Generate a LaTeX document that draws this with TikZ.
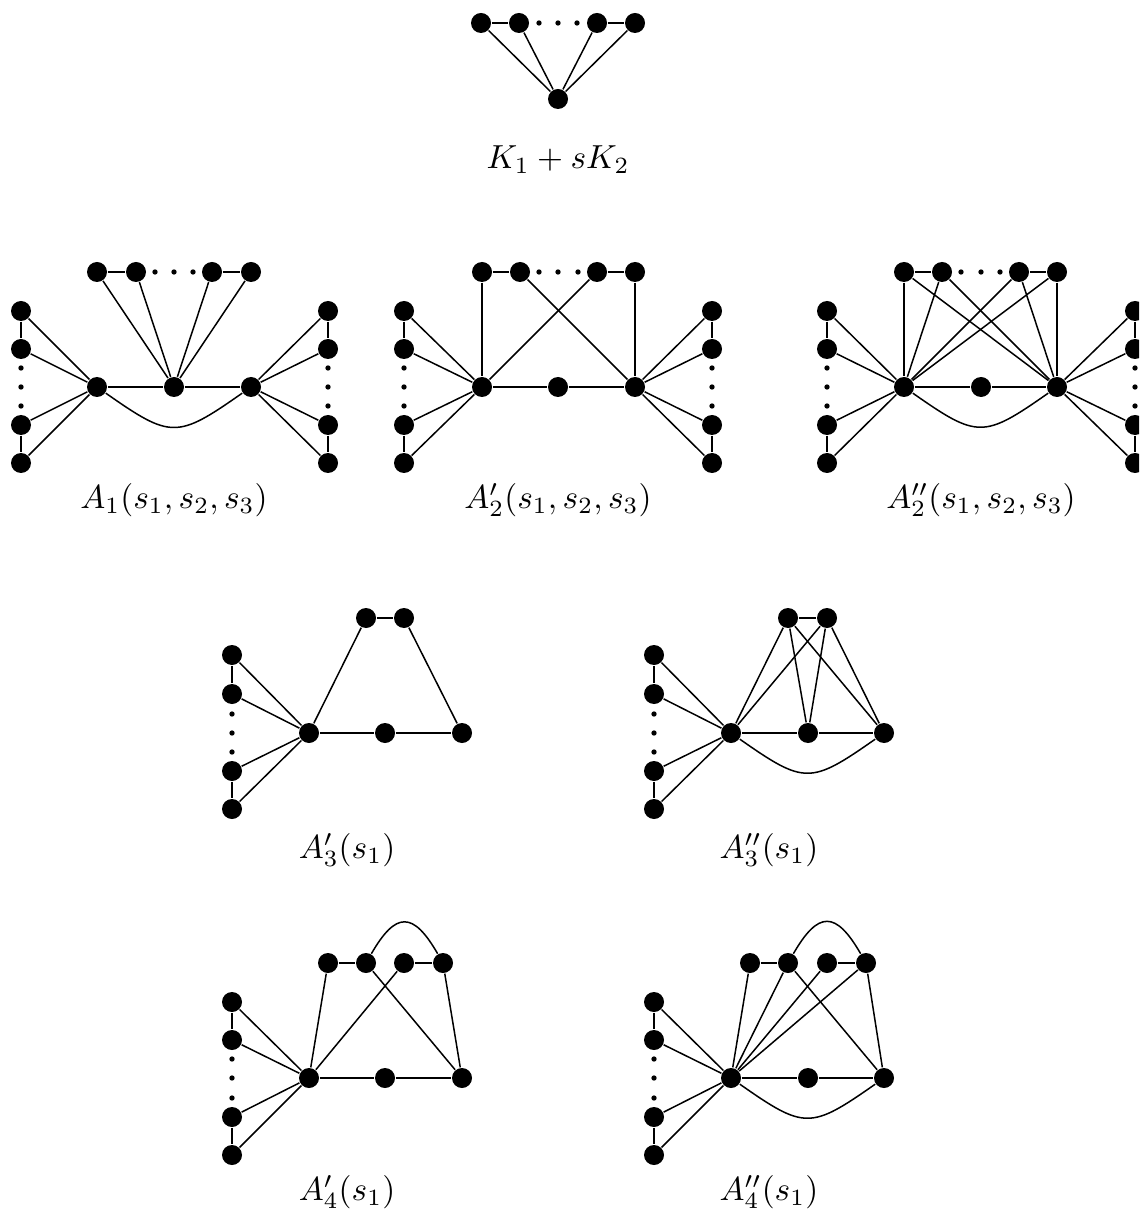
\documentclass[tikz,border=0pt]{standalone}
\usepackage{amsmath}
\tikzset{vtx/.style={circle,fill=black,inner sep=0pt,minimum size=6pt},elp/.style={circle,fill=black,inner sep=0pt,minimum size=1.6pt},lab/.style={font=\fontsize{10}{12}\selectfont,inner sep=1pt}}
\begin{document}
\begin{tikzpicture}[x=0.3pt,y=-0.3pt,line width=0.45pt]
\useasboundingbox (0,0) rectangle (1139,1214);
\clip (0,0) rectangle (1139,1214);
% K_1 + sK_2
\foreach \x [count=\i] in {481,519,597,635}{\node[vtx] (k\i) at (\x,23) {};}
\foreach \x [count=\i] in {539,558,577}{\node[elp] (kd\i) at (\x,23) {};}
\node[vtx] (k0) at (558,99) {};
\node[lab] (klab) at (558,160) {$K_1+sK_2$};
\foreach \a/\b in {k1/k2,k3/k4,k1/k0,k2/k0,k3/k0,k4/k0}{\draw (\a)--(\b);}
% A_1(s_1,s_2,s_3)
\foreach \x [count=\i] in {97,136,212,251}{\node[vtx] (a1t\i) at (\x,272) {};}
\foreach \x [count=\i] in {155,174,193}{\node[elp] (a1d\i) at (\x,272) {};}
\foreach \y [count=\i] in {311,349,425,463}{\node[vtx] (a1p\i) at (21,\y) {};\node[vtx] (a1q\i) at (328,\y) {};}
\foreach \y [count=\i] in {368,387,406}{\node[elp] (a1e\i) at (21,\y) {};\node[elp] (a1f\i) at (328,\y) {};}
\node[vtx] (a1u) at (97,387) {};
\node[vtx] (a1m) at (174,387) {};
\node[vtx] (a1v) at (251,387) {};
\node[lab] (a1lab) at (174,500) {$A_1(s_1,s_2,s_3)$};
\foreach \a/\b in {a1t1/a1t2,a1t3/a1t4,a1t1/a1m,a1t2/a1m,a1t3/a1m,a1t4/a1m,a1p1/a1p2,a1p3/a1p4,a1p1/a1u,a1p2/a1u,a1p3/a1u,a1p4/a1u,a1q1/a1q2,a1q3/a1q4,a1q1/a1v,a1q2/a1v,a1q3/a1v,a1q4/a1v,a1u/a1m,a1m/a1v}{\draw (\a)--(\b);}
\draw (a1u) to[out=-35,in=-145,looseness=1.5] (a1v);
% A'_2(s_1,s_2,s_3)
\foreach \x [count=\i] in {482,520,597,635}{\node[vtx] (b2t\i) at (\x,272) {};}
\foreach \x [count=\i] in {539,558,578}{\node[elp] (b2d\i) at (\x,272) {};}
\foreach \y [count=\i] in {311,349,425,463}{\node[vtx] (b2p\i) at (404,\y) {};\node[vtx] (b2q\i) at (712,\y) {};}
\foreach \y [count=\i] in {368,387,406}{\node[elp] (b2e\i) at (404,\y) {};\node[elp] (b2f\i) at (712,\y) {};}
\node[vtx] (b2u) at (482,387) {};
\node[vtx] (b2m) at (558,387) {};
\node[vtx] (b2v) at (635,387) {};
\node[lab] (b2lab) at (558,500) {$A'_2(s_1,s_2,s_3)$};
\foreach \a/\b in {b2t1/b2t2,b2t3/b2t4,b2t1/b2u,b2t3/b2u,b2t2/b2v,b2t4/b2v,b2p1/b2p2,b2p3/b2p4,b2p1/b2u,b2p2/b2u,b2p3/b2u,b2p4/b2u,b2q1/b2q2,b2q3/b2q4,b2q1/b2v,b2q2/b2v,b2q3/b2v,b2q4/b2v,b2u/b2m,b2m/b2v}{\draw (\a)--(\b);}
% A''_2(s_1,s_2,s_3)
\foreach \x [count=\i] in {904,942,1019,1057}{\node[vtx] (c2t\i) at (\x,272) {};}
\foreach \x [count=\i] in {961,981,1000}{\node[elp] (c2d\i) at (\x,272) {};}
\foreach \y [count=\i] in {311,349,425,463}{\node[vtx] (c2p\i) at (827,\y) {};\node[vtx] (c2q\i) at (1135,\y) {};}
\foreach \y [count=\i] in {368,387,406}{\node[elp] (c2e\i) at (827,\y) {};\node[elp] (c2f\i) at (1135,\y) {};}
\node[vtx] (c2u) at (904,387) {};
\node[vtx] (c2m) at (981,387) {};
\node[vtx] (c2v) at (1057,387) {};
\node[lab] (c2lab) at (981,500) {$A''_2(s_1,s_2,s_3)$};
\foreach \a/\b in {c2t1/c2t2,c2t3/c2t4,c2t1/c2u,c2t2/c2u,c2t3/c2u,c2t4/c2u,c2t1/c2v,c2t2/c2v,c2t3/c2v,c2t4/c2v,c2p1/c2p2,c2p3/c2p4,c2p1/c2u,c2p2/c2u,c2p3/c2u,c2p4/c2u,c2q1/c2q2,c2q3/c2q4,c2q1/c2v,c2q2/c2v,c2q3/c2v,c2q4/c2v,c2u/c2m,c2m/c2v}{\draw (\a)--(\b);}
\draw (c2u) to[out=-35,in=-145,looseness=1.5] (c2v);
% A'_3(s_1)
\node[vtx] (b3t1) at (366,618) {};
\node[vtx] (b3t2) at (404,618) {};
\foreach \y [count=\i] in {655,694,771,809}{\node[vtx] (b3p\i) at (232,\y) {};}
\foreach \y [count=\i] in {714,733,752}{\node[elp] (b3e\i) at (232,\y) {};}
\node[vtx] (b3u) at (309,733) {};
\node[vtx] (b3m) at (385,733) {};
\node[vtx] (b3v) at (462,733) {};
\node[lab] (b3lab) at (347,850) {$A'_3(s_1)$};
\foreach \a/\b in {b3t1/b3t2,b3t1/b3u,b3t2/b3v,b3p1/b3p2,b3p3/b3p4,b3p1/b3u,b3p2/b3u,b3p3/b3u,b3p4/b3u,b3u/b3m,b3m/b3v}{\draw (\a)--(\b);}
% A''_3(s_1)
\node[vtx] (c3t1) at (788,618) {};
\node[vtx] (c3t2) at (827,618) {};
\foreach \y [count=\i] in {655,694,771,809}{\node[vtx] (c3p\i) at (654,\y) {};}
\foreach \y [count=\i] in {714,733,752}{\node[elp] (c3e\i) at (654,\y) {};}
\node[vtx] (c3u) at (731,733) {};
\node[vtx] (c3m) at (808,733) {};
\node[vtx] (c3v) at (884,733) {};
\node[lab] (c3lab) at (769,850) {$A''_3(s_1)$};
\foreach \a/\b in {c3t1/c3t2,c3t1/c3u,c3t1/c3m,c3t1/c3v,c3t2/c3u,c3t2/c3m,c3t2/c3v,c3p1/c3p2,c3p3/c3p4,c3p1/c3u,c3p2/c3u,c3p3/c3u,c3p4/c3u,c3u/c3m,c3m/c3v}{\draw (\a)--(\b);}
\draw (c3u) to[out=-35,in=-145,looseness=1.5] (c3v);
% A'_4(s_1)
\foreach \x [count=\i] in {328,366,404,443}{\node[vtx] (b4t\i) at (\x,963) {};}
\foreach \y [count=\i] in {1002,1040,1117,1155}{\node[vtx] (b4p\i) at (232,\y) {};}
\foreach \y [count=\i] in {1059,1078,1098}{\node[elp] (b4e\i) at (232,\y) {};}
\node[vtx] (b4u) at (309,1078) {};
\node[vtx] (b4m) at (385,1078) {};
\node[vtx] (b4v) at (462,1078) {};
\node[lab] (b4lab) at (347,1192) {$A'_4(s_1)$};
\foreach \a/\b in {b4t1/b4t2,b4t3/b4t4,b4t1/b4u,b4t3/b4u,b4t2/b4v,b4t4/b4v,b4p1/b4p2,b4p3/b4p4,b4p1/b4u,b4p2/b4u,b4p3/b4u,b4p4/b4u,b4u/b4m,b4m/b4v}{\draw (\a)--(\b);}
\draw (b4t2) to[out=60,in=120,looseness=1.9] (b4t4);
% A''_4(s_1)
\foreach \x [count=\i] in {750,788,827,866}{\node[vtx] (c4t\i) at (\x,963) {};}
\foreach \y [count=\i] in {1002,1040,1117,1155}{\node[vtx] (c4p\i) at (654,\y) {};}
\foreach \y [count=\i] in {1059,1078,1098}{\node[elp] (c4e\i) at (654,\y) {};}
\node[vtx] (c4u) at (731,1078) {};
\node[vtx] (c4m) at (808,1078) {};
\node[vtx] (c4v) at (884,1078) {};
\node[lab] (c4lab) at (769,1192) {$A''_4(s_1)$};
\foreach \a/\b in {c4t1/c4t2,c4t3/c4t4,c4t1/c4u,c4t2/c4u,c4t3/c4u,c4t4/c4u,c4t2/c4v,c4t4/c4v,c4p1/c4p2,c4p3/c4p4,c4p1/c4u,c4p2/c4u,c4p3/c4u,c4p4/c4u,c4u/c4m,c4m/c4v}{\draw (\a)--(\b);}
\draw (c4t2) to[out=60,in=120,looseness=1.9] (c4t4);
\draw (c4u) to[out=-35,in=-145,looseness=1.5] (c4v);
\end{tikzpicture}
\end{document}
